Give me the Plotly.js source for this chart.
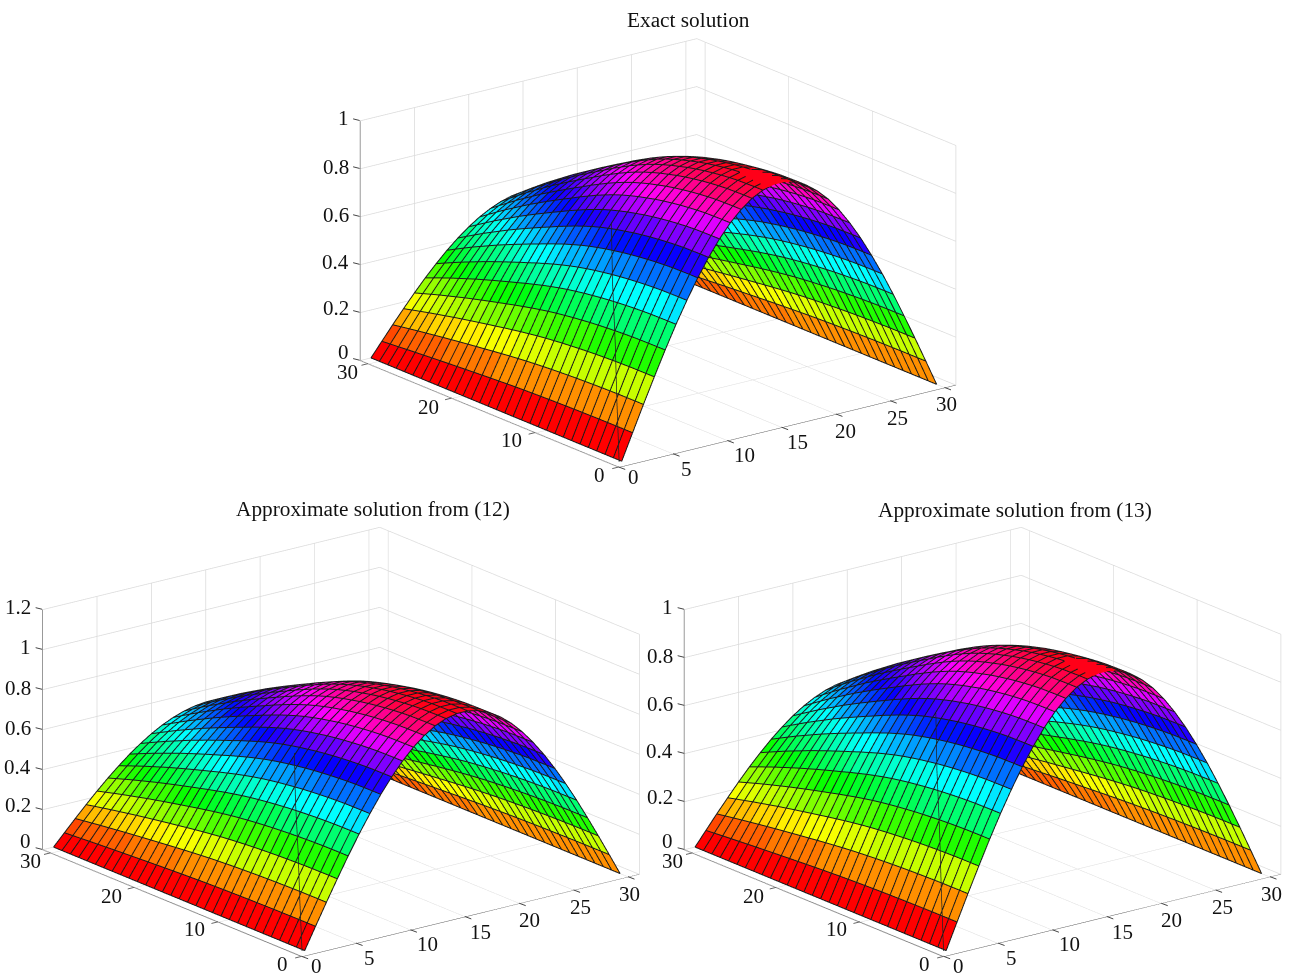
<!DOCTYPE html>
<html><head><meta charset="utf-8">
<script src="https://cdn.plot.ly/plotly-3.0.1.min.js"></script>
<style>html,body{margin:0;padding:0;background:#fff}#c{width:1291px;height:973px}</style>
</head><body><div id="c"></div>
<script>
const gridX=[1,2,3,4,5,6,7,8,9,10,11,12,13,14,15,16,17,18,19,20,21,22,23,24,25,26,27,28,29,30];
const gridY=[1,2,3,4,5,6,7,8,9,10,11,12,13,14,15,16,17,18,19,20,21,22,23,24,25,26,27,28,29,30,31];
const archExact=[0,.108,.215,.319,.42,.516,.605,.688,.762,.828,.884,.929,.964,.987,.999,.999,.987,.964,.929,.884,.828,.762,.688,.605,.516,.42,.319,.215,.108,0];
const archEq12=[0,.108,.215,.319,.42,.516,.605,.688,.762,.828,.884,.929,.964,.987,.999,.999,.987,.964,.929,.884,.828,.762,.688,.605,.516,.42,.319,.215,.108,0];
const archEq13=[0,.108,.215,.319,.42,.516,.605,.688,.762,.828,.884,.929,.964,.987,.999,.999,.987,.964,.929,.884,.828,.762,.688,.605,.516,.42,.319,.215,.108,0];
const fallExact=[1,1,.999,.998,.995,.991,.986,.98,.973,.965,.955,.945,.933,.92,.905,.888,.87,.85,.83,.808,.787,.765,.743,.72,.697,.672,.647,.622,.595,.568,.54];
const fallEq12=[1,1,.999,.998,.995,.991,.986,.98,.973,.965,.955,.945,.933,.92,.905,.888,.87,.85,.83,.808,.787,.765,.743,.72,.697,.672,.647,.622,.595,.568,.54];
const fallEq13=[1,1,.999,.998,.995,.991,.986,.98,.973,.965,.955,.945,.933,.92,.905,.888,.87,.85,.83,.808,.787,.765,.743,.72,.697,.672,.647,.622,.595,.568,.54];
const strayX=[.76,.55,.4,.15,.05];
const strayZ=[0,.26,.5,.76,1];
const xTicks=[0,5,10,15,20,25,30];
const yTicks=[0,10,20,30];
const zTicks1=[0,.2,.4,.6,.8,1];
const zTicks2=[0,.2,.4,.6,.8,1,1.2];
const titles=['Exact solution','Approximate solution from (12)','Approximate solution from (13)'];
const eye=[-0.578,-0.751,0.317];
const zAspect=.595, span=31, nudge=.012;

function hsv(z){const h=Math.min(63,Math.floor(z*64))/64*6,f=h-Math.floor(h),q=Math.round(255*(1-f)),t=Math.round(255*f);
 const c=[[255,t,0],[q,255,0],[0,255,t],[0,q,255],[t,0,255],[255,0,q]][Math.floor(h)%6];return 'rgb('+c.join(',')+')';}

function traces(arch,fall,scene,zTop){
 const n=gridX.length,m=gridY.length,X=[],Y=[],Z=[],I=[],J=[],K=[],F=[];
 for(let a=0;a<n;a++)for(let b=0;b<m;b++){X.push(gridX[a]);Y.push(gridY[b]);Z.push(arch[a]*fall[b]);}
 const id=(a,b)=>a*m+b;
 for(let a=0;a<n-1;a++)for(let b=0;b<m-1;b++){
  const col=hsv(arch[a]*fall[b]);
  I.push(id(a,b),id(a,b));J.push(id(a+1,b),id(a+1,b+1));K.push(id(a+1,b+1),id(a,b+1));F.push(col,col);
 }
 // mesh lines are moved a hair toward the viewer so the surface does not swallow them; their screen position is unchanged
 const dx=eye[0]*nudge*span,dy=eye[1]*nudge*span,dz=eye[2]*nudge*zTop/zAspect;
 const lx=[],ly=[],lz=[];
 for(let a=0;a<n;a++){for(let b=0;b<m;b++){lx.push(gridX[a]+dx);ly.push(gridY[b]+dy);lz.push(arch[a]*fall[b]+dz);}lx.push(null);ly.push(null);lz.push(null);}
 for(let b=0;b<m;b++){for(let a=0;a<n;a++){lx.push(gridX[a]+dx);ly.push(gridY[b]+dy);lz.push(arch[a]*fall[b]+dz);}lx.push(null);ly.push(null);lz.push(null);}
 return [
  {type:'mesh3d',scene,x:X,y:Y,z:Z,i:I,j:J,k:K,facecolor:F,flatshading:true,showscale:false,hoverinfo:'skip',
   lighting:{ambient:1,diffuse:0,specular:0,fresnel:0,roughness:1}},
  {type:'scatter3d',scene,mode:'lines',x:lx,y:ly,z:lz,connectgaps:false,line:{color:'#1a1a1a',width:2},showlegend:false,hoverinfo:'skip'},
  {type:'scatter3d',scene,mode:'lines',x:strayX,y:strayX.map(()=>1),z:strayZ,line:{color:'#222',width:1.5},showlegend:false,hoverinfo:'skip'}
 ];
}
function ax(ticks,range,lc,lw){return {range,tickmode:'array',tickvals:ticks,ticktext:ticks.map(String),showticklabels:false,title:{text:''},showgrid:true,gridcolor:'#dadada',gridwidth:1.5,
 zeroline:false,showbackground:false,showline:true,linecolor:lc,linewidth:lw,ticks:'',showspikes:false};}
const font={family:'Liberation Serif',size:21,color:'#111'};
const titleFont={family:'Liberation Serif',size:21.3,color:'#111'};
const xShift=[[15,-10],[13,-15],[17,-14.5],[16,-15],[10,-17],[7,-17.5],[2,-17]];
const yShift=[[-19,-8],[-23.8,-7.2],[-22.6,-8.4],[-20.4,-8.6]];
const zShift=[8,4,2,1,1,2,2];
function labels(zt){
 const L=[];
 const base=t=>({text:String(t),showarrow:false,font,xanchor:'center',yanchor:'middle'});
 const tick=(p,ax_,ay_,c)=>Object.assign({text:' ',showarrow:true,arrowhead:0,arrowwidth:1,arrowcolor:c,ax:ax_,ay:ay_,standoff:0,startstandoff:0,font:{size:1}},p);
 xTicks.forEach((t,i)=>{L.push(Object.assign(base(t),{x:t,y:0,z:0,xshift:xShift[i][0],yshift:xShift[i][1]}));L.push(tick({x:t,y:0,z:0},8,3,'#444'));});
 yTicks.forEach((t,i)=>{L.push(Object.assign(base(t),{x:0,y:t,z:0,xshift:yShift[i][0],yshift:yShift[i][1]}));L.push(tick({x:0,y:t,z:0},-8,2,'#666'));});
 zt.forEach((t,i)=>{L.push(Object.assign(base(t),{x:0,y:31,z:t,xanchor:'right',xshift:-9,yshift:zShift[i]}));L.push(tick({x:0,y:31,z:t},-8,-2,'#444'));});
 return L;
}
function scene(dom,zt,zr,s){return {domain:dom,aspectmode:'manual',aspectratio:{x:s,y:s,z:zAspect*s},
 xaxis:ax(xTicks,[0,span],'#444',1),yaxis:ax(yTicks,[0,span],'#888',2),zaxis:ax(zt,zr,'#444',1),annotations:labels(zt),
 camera:{projection:{type:'orthographic'},up:{x:0,y:0,z:1},center:{x:0,y:0,z:0},eye:{x:eye[0]*2,y:eye[1]*2,z:eye[2]*2}},dragmode:false};}
const W=1291,H=973;
function dom(cx,cy,w,h){return {x:[Math.max(0,(cx-w/2)/W),Math.min(1,(cx+w/2)/W)],y:[1-(cy+h/2)/H,1-(cy-h/2)/H]};}
const layout={width:W,height:H,margin:{l:0,r:0,t:0,b:0},paper_bgcolor:'#fff',showlegend:false,
 scene:scene(dom(657.5,252.65,640,490),zTicks1,[0,1],1.734),
 scene2:scene(dom(340.5,741.65,680,460),zTicks2,[0,1.2],1.85),
 scene3:scene(dom(982.5,741.65,617,460),zTicks1,[0,1],1.85),
 annotations:[[688,20],[373,509],[1015,510]].map((p,i)=>({text:titles[i],xref:'paper',yref:'paper',x:p[0]/W,y:1-p[1]/H,xanchor:'center',yanchor:'middle',showarrow:false,font:titleFont}))
};
Plotly.newPlot('c',[...traces(archExact,fallExact,'scene',1),...traces(archEq12,fallEq12,'scene2',1.2),...traces(archEq13,fallEq13,'scene3',1)],layout,{displayModeBar:false});
</script></body></html>
